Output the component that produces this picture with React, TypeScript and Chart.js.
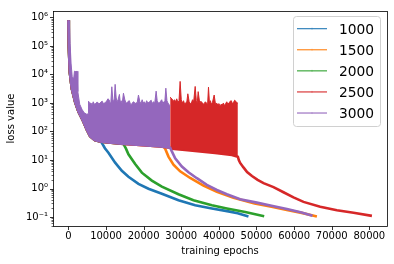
import { useEffect, useRef } from "react";
import { Chart, registerables } from "chart.js";

Chart.register(...registerables);

const FONT = "'DejaVu Sans', 'Liberation Sans', sans-serif";

const seriesLabels = ["1000", "1500", "2000", "2500", "3000"];
const seriesColors = ["#1f77b4", "#ff7f0e", "#2ca02c", "#d62728", "#9467bd"];

const xTickValues = [0, 10000, 20000, 30000, 40000, 50000, 60000, 70000, 80000];
const yTickValues = [0.1, 1, 10, 100, 1000, 10000, 100000, 1000000];
const yTickLabels = ["10⁻¹", "10⁰", "10¹", "10²", "10³", "10⁴", "10⁵", "10⁶"];

// series 1000: lower edge of noisy phase, then smooth decay
const loss1000X = [0, 100, 370, 900, 1780, 2660, 4000, 4900, 5770, 7000, 8430, 8880, 9700, 10640, 12420, 14200, 15960, 18620, 21280, 24840, 29260, 33700, 38140, 42550, 45000, 47870];
const loss1000Y = [8e5, 1e5, 1.2e4, 3200, 1100, 500, 220, 115, 68, 50, 45, 40, 26, 18, 8.1, 4.2, 2.6, 1.45, 0.98, 0.66, 0.39, 0.26, 0.2, 0.158, 0.135, 0.105];

// series 1500
const loss1500X = [0, 100, 370, 900, 1780, 2660, 4000, 4900, 5770, 7000, 8430, 10000, 14000, 20000, 24500, 25270, 25720, 26600, 27930, 29700, 32370, 35900, 39470, 43880, 49500, 54000, 58080, 62000, 66060];
const loss1500Y = [8e5, 1e5, 1.2e4, 3200, 1100, 500, 220, 115, 68, 50, 45, 42, 37, 33, 30, 28.8, 25, 13.2, 6.9, 4.0, 2.34, 1.26, 0.76, 0.47, 0.3, 0.23, 0.178, 0.14, 0.105];

// series 2000
const loss2000X = [0, 100, 370, 900, 1780, 2660, 4000, 4900, 5770, 7000, 8430, 10000, 14000, 14630, 15300, 15960, 17740, 19520, 22180, 24840, 29260, 33240, 38140, 42130, 47000, 52050];
const loss2000Y = [8e5, 1e5, 1.2e4, 3200, 1100, 500, 220, 115, 68, 50, 45, 42, 37, 36.5, 25, 15.8, 7.2, 3.6, 1.9, 1.17, 0.63, 0.39, 0.26, 0.2, 0.15, 0.107];

// series 2500: lower edge of noisy phase, then decay
const loss2500X = [0, 100, 370, 900, 1780, 2660, 4000, 4900, 5770, 7000, 8430, 10000, 14000, 20000, 24500, 27050, 27500, 31000, 35000, 39000, 43450, 45050, 45300, 45660, 46540, 47500, 48800, 50300, 51870, 54520, 57180, 59840, 62500, 66940, 71380, 75800, 80690];
const loss2500Y = [8e5, 1e5, 1.2e4, 3200, 1100, 500, 220, 115, 68, 50, 45, 42, 37, 33, 30, 27, 25, 22.5, 20, 17.5, 15, 13, 10, 7.9, 5.5, 3.8, 2.75, 2.0, 1.55, 1.12, 0.74, 0.49, 0.34, 0.23, 0.174, 0.141, 0.11];
// series 2500: upper edge of the noisy phase (visible part)
const peak2500X = [27050, 27500, 27900, 28200, 28500, 28800, 29100, 29400, 29700, 30000, 30300, 30600, 30900, 31200, 31500, 31750, 32100, 32400, 32700, 33000, 33300, 33700, 34000, 34250, 34500, 34900, 35200, 35500, 35800, 36100, 36400, 36700, 37000, 37240, 37500, 37750, 38000, 38300, 38750, 39100, 39400, 39700, 40000, 40300, 40600, 40900, 41200, 41500, 41800, 42100, 42400, 42700, 43000, 43300, 43600, 43900, 44200, 44500, 44800, 45050];
const peak2500Y = [1600, 1400, 1150, 1300, 1100, 1400, 1050, 1200, 5700, 1300, 1000, 1200, 900, 1000, 1150, 2100, 1100, 950, 1000, 1300, 1100, 3800, 1200, 1000, 2500, 1000, 1150, 1050, 900, 950, 1100, 1000, 850, 3600, 1000, 1200, 900, 1050, 1900, 900, 1000, 850, 950, 800, 900, 850, 1000, 800, 950, 1100, 900, 1000, 1150, 1200, 950, 1050, 1250, 1150, 1000, 1000];

// series 3000
const loss3000X = [0, 100, 370, 900, 1780, 2660, 4000, 4900, 5770, 7000, 8430, 10000, 14000, 20000, 24500, 27050, 27500, 28380, 30160, 31920, 34150, 36800, 39470, 42130, 45660, 50100, 54000, 58080, 62000, 64900];
const loss3000Y = [8e5, 1e5, 1.2e4, 3200, 1100, 500, 220, 115, 68, 50, 45, 42, 37, 33, 30, 27, 20, 11.5, 5.9, 3.7, 2.3, 1.35, 0.89, 0.63, 0.42, 0.32, 0.25, 0.19, 0.145, 0.11];
const peak3000X = [0, 250, 450, 700, 1000, 1400, 1600, 2000, 2300, 2500, 3000, 3600, 4200, 4900, 5250, 5350, 5700, 6000, 6300, 6600, 6900, 7200, 7500, 7800, 8100, 8400, 8700, 9000, 9300, 9600, 9900, 10200, 10500, 10800, 11100, 11300, 11540, 11800, 12000, 12200, 12420, 12700, 12950, 13200, 13560, 13800, 14000, 14300, 14630, 15000, 15300, 15600, 15900, 16200, 16500, 16800, 17100, 17400, 17700, 18000, 18300, 18620, 19000, 19300, 19600, 19900, 20200, 20500, 20800, 21100, 21400, 21700, 22000, 22300, 22600, 22950, 23320, 23600, 23900, 24200, 24500, 24800, 25100, 25400, 25650, 25900, 26200, 26450, 26700, 27050];
const peak3000Y = [8e5, 7e5, 1.2e5, 2.5e4, 8500, 7000, 1.3e4, 1.25e4, 1.3e4, 2500, 900, 600, 450, 400, 420, 1150, 950, 1000, 850, 1100, 900, 950, 1050, 1050, 900, 1000, 1100, 1150, 950, 1000, 1050, 1200, 1400, 1300, 1000, 1150, 3700, 1300, 1100, 1400, 4500, 1500, 1100, 1300, 2000, 1000, 1200, 950, 2200, 1300, 1000, 1000, 1150, 1200, 900, 900, 1050, 1100, 950, 1000, 1050, 1900, 1100, 950, 1300, 1000, 1100, 900, 1200, 1000, 1050, 1150, 1250, 950, 1100, 1000, 2600, 1200, 1000, 1000, 1150, 1300, 950, 1100, 1200, 3300, 1200, 1000, 900, 800];

const xMin = -4100;
const xMax = 84700;
const yMin = 0.0485;
const yMax = 1.68e6;

const pts = (xs: number[], ys: number[]) => xs.map((x, i) => ({ x, y: ys[i] }));

const framePlugin = {
  id: "frameTicksLegend",
  afterDraw(chart: any) {
    const { ctx, chartArea: a, scales } = chart;
    ctx.save();
    ctx.strokeStyle = "#000";
    ctx.lineWidth = 0.8;
    ctx.strokeRect(a.left + 0.5, a.top + 0.5, a.right - a.left, a.bottom - a.top);
    ctx.beginPath();
    for (const v of xTickValues) {
      const p = Math.round(scales.x.getPixelForValue(v)) + 0.5;
      ctx.moveTo(p, a.bottom + 0.5);
      ctx.lineTo(p, a.bottom + 4);
    }
    for (const v of yTickValues) {
      const p = Math.round(scales.y.getPixelForValue(v)) + 0.5;
      ctx.moveTo(a.left + 0.5, p);
      ctx.lineTo(a.left - 3, p);
    }
    ctx.stroke();
    ctx.lineWidth = 0.6;
    ctx.beginPath();
    for (let e = -2; e <= 6; e++) {
      for (let m = 2; m <= 9; m++) {
        const v = m * Math.pow(10, e);
        if (v < yMin || v > yMax) continue;
        const p = Math.round(scales.y.getPixelForValue(v)) + 0.5;
        ctx.moveTo(a.left + 0.5, p);
        ctx.lineTo(a.left - 1.5, p);
      }
    }
    ctx.stroke();

    // legend
    const bx = 293.5, by = 16.5, bw = 87, bh = 110, r = 3;
    ctx.beginPath();
    ctx.moveTo(bx + r, by);
    ctx.lineTo(bx + bw - r, by);
    ctx.quadraticCurveTo(bx + bw, by, bx + bw, by + r);
    ctx.lineTo(bx + bw, by + bh - r);
    ctx.quadraticCurveTo(bx + bw, by + bh, bx + bw - r, by + bh);
    ctx.lineTo(bx + r, by + bh);
    ctx.quadraticCurveTo(bx, by + bh, bx, by + bh - r);
    ctx.lineTo(bx, by + r);
    ctx.quadraticCurveTo(bx, by, bx + r, by);
    ctx.closePath();
    ctx.fillStyle = "rgba(255,255,255,0.8)";
    ctx.fill();
    ctx.strokeStyle = "#d0d0d0";
    ctx.lineWidth = 1;
    ctx.stroke();
    ctx.font = `13.8px ${FONT}`;
    ctx.textBaseline = "alphabetic";
    ctx.textAlign = "left";
    seriesLabels.forEach((lab, i) => {
      const cy = 28.7 + i * 21.08;
      ctx.strokeStyle = seriesColors[i];
      ctx.lineWidth = 1.1;
      ctx.beginPath();
      ctx.moveTo(297, cy);
      ctx.lineTo(327, cy);
      ctx.stroke();
      ctx.lineWidth = 0.4;
      ctx.beginPath();
      ctx.moveTo(312, cy - 1);
      ctx.lineTo(312, cy + 1);
      ctx.stroke();
      ctx.fillStyle = "#000";
      ctx.fillText(lab, 339, cy + 4.9);
    });
    ctx.restore();
  },
};

export default function App() {
  const ref = useRef<HTMLCanvasElement | null>(null);
  useEffect(() => {
    document.body.style.margin = "0";
    const canvas = ref.current;
    if (!canvas) return;
    const lineDs = (i: number, xs: number[], ys: number[], order: number) => ({
      label: seriesLabels[i],
      data: pts(xs, ys),
      borderColor: seriesColors[i],
      backgroundColor: seriesColors[i],
      borderWidth: 2.6,
      pointRadius: 0,
      fill: false,
      tension: 0,
      order,
    });
    const chart = new Chart(canvas, {
      type: "line",
      data: {
        datasets: [
          lineDs(0, loss1000X, loss1000Y, 6),
          lineDs(1, loss1500X, loss1500Y, 5),
          lineDs(2, loss2000X, loss2000Y, 4),
          lineDs(3, loss2500X, loss2500Y, 3),
          {
            label: "2500 peaks",
            data: pts(peak2500X, peak2500Y),
            borderColor: seriesColors[3],
            backgroundColor: seriesColors[3],
            borderWidth: 1,
            pointRadius: 0,
            fill: 3,
            tension: 0,
            order: 2,
          },
          lineDs(4, loss3000X, loss3000Y, 1),
          {
            label: "3000 peaks",
            data: pts(peak3000X, peak3000Y),
            borderColor: seriesColors[4],
            backgroundColor: seriesColors[4],
            borderWidth: 1,
            pointRadius: 0,
            fill: 5,
            tension: 0,
            order: 0,
          },
        ] as any,
      },
      options: {
        animation: false,
        responsive: false,
        devicePixelRatio: 1,
        layout: { padding: { left: 0, right: 7, top: 8, bottom: 0 } },
        plugins: {
          legend: { display: false },
          tooltip: { enabled: false },
          filler: { propagate: false },
        },
        scales: {
          x: {
            type: "linear",
            min: xMin,
            max: xMax,
            afterBuildTicks: (s: any) => {
              s.ticks = xTickValues.map((v) => ({ value: v }));
            },
            afterFit: (s: any) => {
              s.height = 38;
            },
            grid: { display: false, drawTicks: false },
            border: { display: false },
            ticks: {
              padding: 4,
              color: "#000",
              maxRotation: 0,
              autoSkip: false,
              font: { family: FONT, size: 10 },
              callback: (v: any) => String(v),
            },
            title: {
              display: true,
              text: "training epochs",
              color: "#000",
              font: { family: FONT, size: 10 },
              padding: { top: 0, bottom: 7 },
            },
          },
          y: {
            type: "logarithmic",
            min: yMin,
            max: yMax,
            afterBuildTicks: (s: any) => {
              s.ticks = yTickValues.map((v) => ({ value: v }));
            },
            afterFit: (s: any) => {
              s.width = 53;
            },
            grid: { display: false, drawTicks: false },
            border: { display: false },
            ticks: {
              padding: 5,
              color: "#000",
              autoSkip: false,
              font: { family: FONT, size: 10 },
              callback: (v: any) => {
                const i = yTickValues.indexOf(Number(v));
                return i >= 0 ? yTickLabels[i] : "";
              },
            },
            title: {
              display: true,
              text: "loss value",
              color: "#000",
              font: { family: FONT, size: 10 },
              padding: { top: 5, bottom: 0 },
            },
          },
        },
      } as any,
      plugins: [framePlugin],
    });
    return () => chart.destroy();
  }, []);
  return <canvas ref={ref} width={394} height={264} style={{ display: "block" }} />;
}
